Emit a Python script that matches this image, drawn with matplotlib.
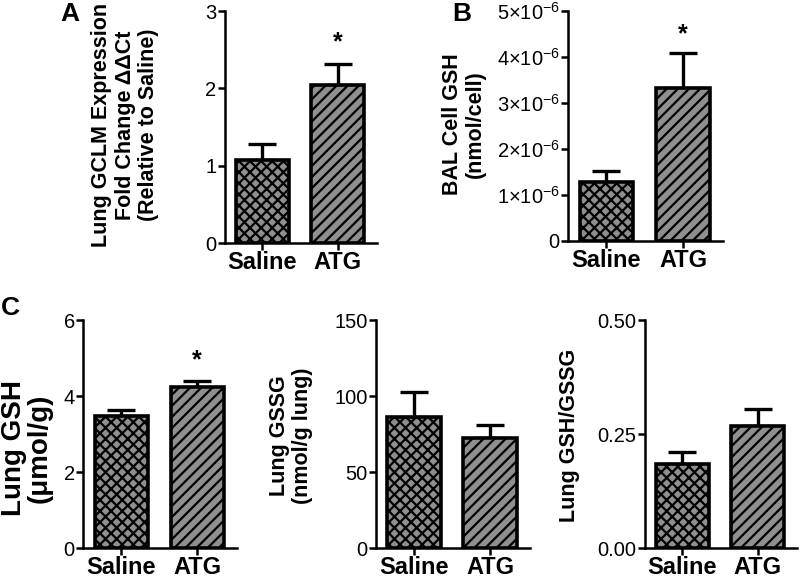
import numpy as np
import matplotlib
matplotlib.use("Agg")
import matplotlib.pyplot as plt

plt.rcParams['font.family'] = ['Liberation Sans', 'DejaVu Sans']
plt.rcParams['mathtext.fontset'] = 'custom'
plt.rcParams['mathtext.rm'] = 'Liberation Sans'
plt.rcParams['hatch.linewidth'] = 1.6

groups = ['Saline', 'ATG']

# panel A: GCLM expression
gclm_mean = [1.07, 2.04]
gclm_err = [0.21, 0.28]
# panel B: BAL cell GSH (nmol/cell)
bal_mean = [1.28e-6, 3.32e-6]
bal_err = [0.24e-6, 0.77e-6]
# panel C: lung GSH, GSSG, ratio
gsh_mean = [3.47, 4.23]
gsh_err = [0.16, 0.17]
gssg_mean = [86.5, 72.5]
gssg_err = [16.0, 8.5]
ratio_mean = [0.185, 0.268]
ratio_err = [0.025, 0.038]

hatches = ['xxx', '///']


def bars(ax, mean, err, ylim, yticks, star=None, ticklabels=None):
    x = np.arange(len(groups))
    for i in range(len(groups)):
        ax.bar(x[i], mean[i], width=0.7, color='#8f8f8f', edgecolor='black',
               linewidth=2.6, hatch=hatches[i], zorder=2)
    ax.errorbar(x, mean, yerr=[np.zeros(len(err)), err], fmt='none',
                ecolor='black', elinewidth=2.4, capsize=10, capthick=2.4, zorder=1)
    ax.set_xlim(-0.5, 1.52)
    ax.set_ylim(*ylim)
    ax.set_yticks(yticks)
    if ticklabels is not None:
        ax.set_yticklabels(ticklabels)
    for s in ['top', 'right']:
        ax.spines[s].set_visible(False)
    for s in ['left', 'bottom']:
        ax.spines[s].set_linewidth(1.8)
    ax.tick_params(width=1.8, length=5)
    ax.tick_params(axis='y', labelsize=14.5, pad=1)
    ax.set_xticks(x)
    ax.set_xticklabels(groups, fontweight='bold', fontsize=17)
    ax.tick_params(axis='x', pad=1)
    if star is not None:
        ax.text(1, star, '*', ha='center', va='center', fontsize=18, fontweight='bold')


fig = plt.figure(figsize=(8, 5.83), dpi=100)

axA = fig.add_axes([0.281, 0.583, 0.19, 0.398])
bars(axA, gclm_mean, gclm_err, (0, 3), [0, 1, 2, 3], star=2.6)

axB = fig.add_axes([0.71, 0.587, 0.194, 0.394])
bars(axB, bal_mean, bal_err, (0, 5e-6), [0, 1e-6, 2e-6, 3e-6, 4e-6, 5e-6], star=4.5e-6,
     ticklabels=['0'] + [r'$\mathregular{%d{\times}10^{-6}}$' % k for k in range(1, 6)])

axC1 = fig.add_axes([0.104, 0.06, 0.192, 0.391])
bars(axC1, gsh_mean, gsh_err, (0, 6), [0, 2, 4, 6], star=4.95)

axC2 = fig.add_axes([0.47, 0.06, 0.192, 0.391])
bars(axC2, gssg_mean, gssg_err, (0, 150), [0, 50, 100, 150])

axC3 = fig.add_axes([0.806, 0.06, 0.19, 0.391])
bars(axC3, ratio_mean, ratio_err, (0, 0.5), [0, 0.25, 0.5],
     ticklabels=['0.00', '0.25', '0.50'])

lab = dict(rotation=90, ha='center', va='center', fontweight='bold',
           fontsize=15.5, multialignment='center', linespacing=1.15)
fig.text(125 / 800, 1 - 125 / 583,
         'Lung GCLM Expression\nFold Change ΔΔCt\n(Relative to Saline)', **lab)
fig.text(464 / 800, 1 - 124 / 583, 'BAL Cell GSH\n(nmol/cell)', **lab)
fig.text(27 / 800, 1 - 448 / 583, 'Lung GSH\n(μmol/g)', **dict(lab, fontsize=20, linespacing=1.0))
fig.text(291 / 800, 1 - 436 / 583, 'Lung GSSG\n(nmol/g lung)', **lab)
fig.text(569 / 800, 1 - 435 / 583, 'Lung GSH/GSSG', **lab)

fig.text(70 / 800, 1 - 14 / 583, 'A', fontsize=19, fontweight='bold', ha='center', va='center')
fig.text(462 / 800, 1 - 14 / 583, 'B', fontsize=19, fontweight='bold', ha='center', va='center')
fig.text(10 / 800, 1 - 308 / 583, 'C', fontsize=19, fontweight='bold', ha='center', va='center')

fig.savefig('out.png', dpi=100)
